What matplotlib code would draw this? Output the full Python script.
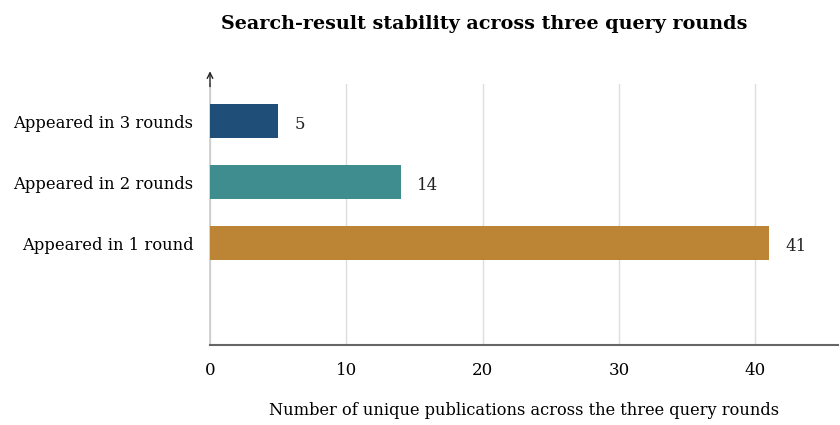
import matplotlib.pyplot as plt
import matplotlib as mpl
import numpy as np

mpl.rcParams["font.family"] = ["DejaVu Serif"]

categories = ["Appeared in 1 round", "Appeared in 2 rounds", "Appeared in 3 rounds"]
counts = [41, 14, 5]
colors = ["#bc8435", "#408d8f", "#1f4e79"]
xticks = [0, 10, 20, 30, 40]

fig = plt.figure(figsize=(8.4, 4.25), dpi=100)
ax = fig.add_axes([0.25, 0.188, 0.748, 0.614])

y = np.arange(len(categories)) + 1
ax.barh(y, counts, height=0.56, color=colors, zorder=3)
for yi, v in zip(y, counts):
    ax.text(v + 1.2, yi - 0.06, f"{v}", va="center", ha="left", fontsize=12, color="#222222")

ax.set_xlim(0, 46.1)
ax.set_ylim(-0.67, 3.61)
ax.set_xticks(xticks)
ax.set_xticklabels([str(t) for t in xticks], fontsize=12)
ax.set_yticks(y)
ax.set_yticklabels(categories, fontsize=11.8)
ax.tick_params(axis="both", length=0)
ax.tick_params(axis="x", pad=12)
ax.tick_params(axis="y", pad=12)

ax.grid(axis="x", color="#dddddd", linewidth=1, zorder=0)
ax.set_axisbelow(True)
for sp in ["top", "right"]:
    ax.spines[sp].set_visible(False)
ax.spines["left"].set_color("#cccccc")
ax.spines["left"].set_linewidth(1.2)
ax.spines["bottom"].set_color("#666666")
ax.spines["bottom"].set_linewidth(1.5)

# arrow on top of y axis
ax.annotate("", xy=(0, 1.06), xytext=(0, 0.98), xycoords="axes fraction",
            arrowprops=dict(arrowstyle="->", color="#222222", lw=1))

ax.set_xlabel("Number of unique publications across the three query rounds",
              fontsize=11.7, labelpad=17)
fig.suptitle("Search-result stability across three query rounds",
             fontsize=13.8, fontweight="bold", x=0.576, y=0.965)

fig.savefig("out.png", dpi=100)
